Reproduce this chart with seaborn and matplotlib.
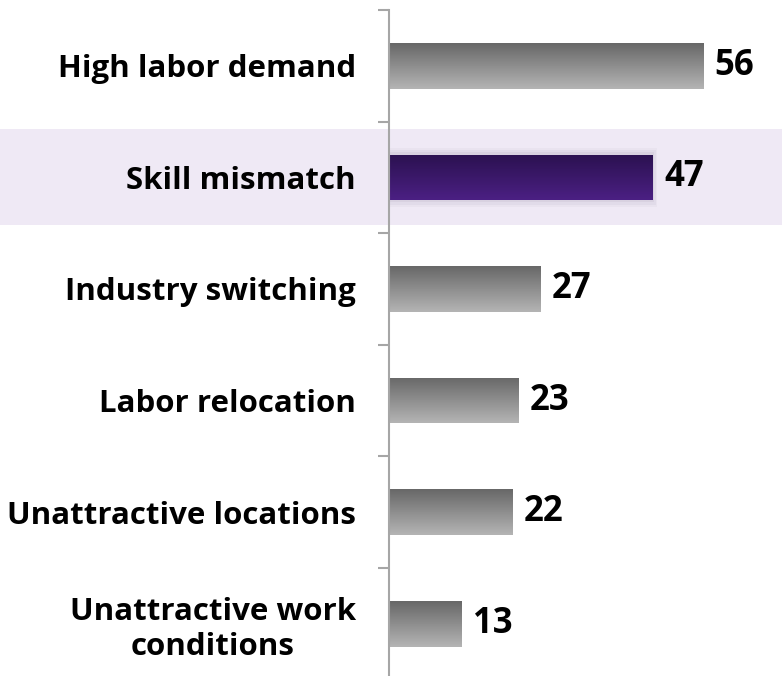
import numpy as np
import pandas as pd
import matplotlib
matplotlib.use("Agg")
import matplotlib.pyplot as plt
import matplotlib.transforms as mtransforms
from matplotlib.colors import LinearSegmentedColormap
from matplotlib.patches import Rectangle
import seaborn as sns

# Données
raisons = ["High labor demand", "Skill mismatch", "Industry switching",
           "Labor relocation", "Unattractive locations",
           "Unattractive work\nconditions"]
valeurs = [56, 47, 27, 23, 22, 13]
surligne = "Skill mismatch"

sns.set_theme(style="white")
plt.rcParams['font.family'] = ['Open Sans', 'DejaVu Sans']

df = pd.DataFrame({"raison": raisons, "valeur": valeurs})

fig = plt.figure(figsize=(7.82, 6.76), dpi=100)
ax = fig.add_axes([389 / 782, -3.5 / 676, 1 - 389 / 782, 669.5 / 676])

sns.barplot(data=df, x="valeur", y="raison", color="#999999", width=0.41,
            ax=ax, orient="h")

ax.set_xlim(0, 70)
ax.set_ylim(len(raisons) - 0.5, -0.5)

# Dégradés sur les barres
gris = LinearSegmentedColormap.from_list("gris", ["#686868", "#b4b4b4"])
violet = LinearSegmentedColormap.from_list("violet", ["#2b1150", "#4b2083"])
grad = np.linspace(0, 1, 64).reshape(-1, 1)
for patch, nom in zip(ax.patches, raisons):
    x0, y0 = patch.get_x(), patch.get_y()
    w, h = patch.get_width(), patch.get_height()
    cmap = violet if nom == surligne else gris
    if nom == surligne:
        # petite ombre
        for k, a in enumerate([0.05, 0.04, 0.03]):
            d = 0.02 * (k + 1)
            ax.add_patch(Rectangle((x0, y0 - d), w + 0.25 * (k + 1), h + 2 * d,
                                   facecolor="#3a2a50", alpha=a, lw=0, zorder=1))
    im = ax.imshow(grad, cmap=cmap, extent=[x0, x0 + w, y0 + h, y0],
                   aspect="auto", origin="upper", zorder=2)
    im.set_clip_path(patch)
    patch.set_facecolor("none")
    patch.set_edgecolor("none")

ax.set_xlim(0, 70)
ax.set_ylim(len(raisons) - 0.5, -0.5)

# Bande de surlignage sur toute la largeur
i = raisons.index(surligne)
trans = mtransforms.blended_transform_factory(fig.transFigure, ax.transData)
fig.patches.append(Rectangle((0, i - 0.43), 1, 0.86, transform=trans,
                             facecolor="#efe9f5", lw=0, zorder=-1))
ax.patch.set_alpha(0)

# Étiquettes de valeurs
for cont in ax.containers:
    ax.bar_label(cont, labels=[str(v) for v in valeurs], padding=8,
                 fontsize=25, fontweight="bold", color="black")

# Axes
for s in ["top", "right", "bottom"]:
    ax.spines[s].set_visible(False)
ax.spines["left"].set_color("#a6a6a6")
ax.spines["left"].set_linewidth(1.5)
ax.set_xticks([])
ax.set_xlabel("")
ax.set_ylabel("")
ax.tick_params(axis="y", which="major", length=0, pad=24)
ax.set_yticks(np.arange(-0.5, len(raisons)), minor=True)
ax.tick_params(axis="y", which="minor", left=True, length=8, width=1.5,
               color="#a6a6a6", direction="out")
for lab in ax.get_yticklabels():
    lab.set_fontsize(22.5)
    lab.set_fontweight("bold")
    lab.set_color("black")
    lab.set_multialignment("center")
    lab.set_linespacing(1.22)

fig.savefig("out.png", dpi=100)
